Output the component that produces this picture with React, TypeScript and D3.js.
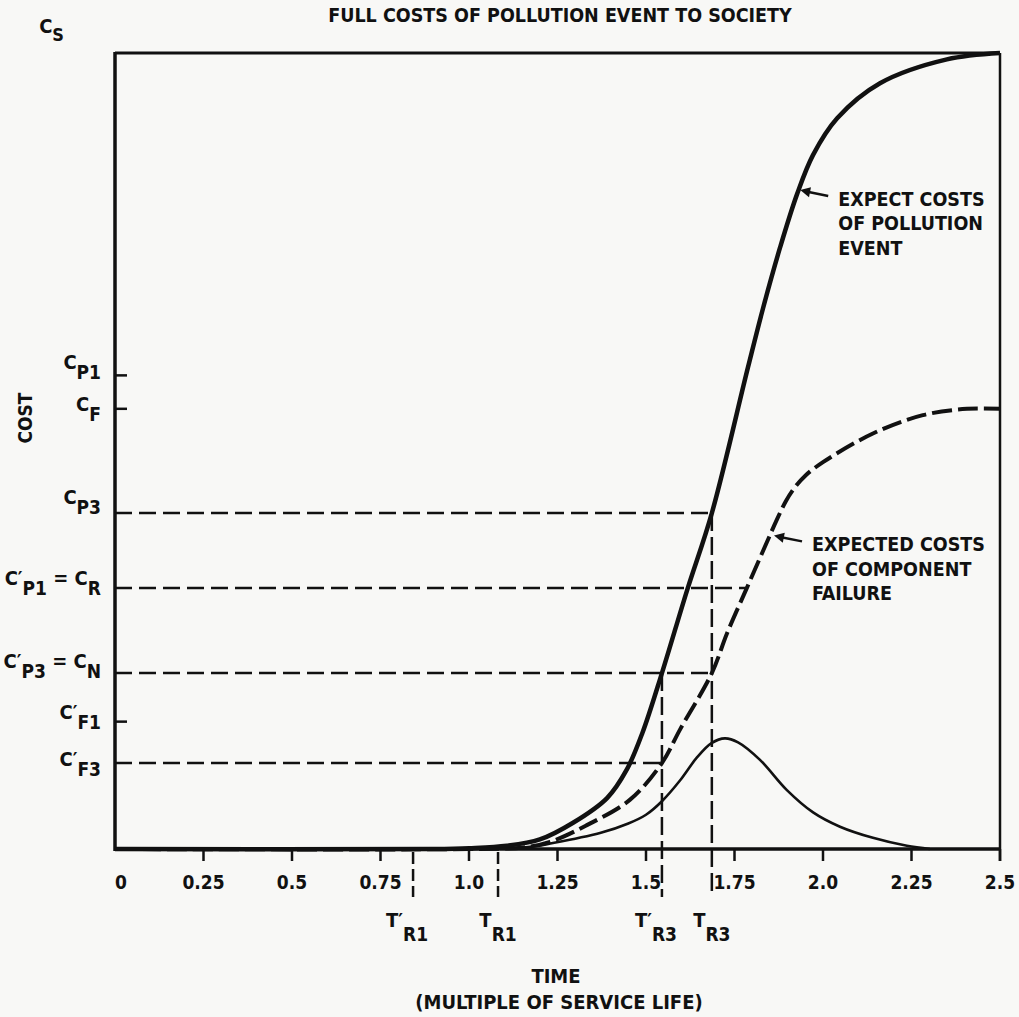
import React from "react";
import * as d3 from "d3";

// ---- data ----
const timeTicks = [0, 0.25, 0.5, 0.75, 1.0, 1.25, 1.5, 1.75, 2.0, 2.25, 2.5];
const timeTickLabels = ["0", "0.25", "0.5", "0.75", "1.0", "1.25", "1.5", "1.75", "2.0", "2.25", "2.5"];

// Expected costs of pollution event (thick solid)
const pollutionT = [0, 0.9, 1.0, 1.107, 1.2, 1.294, 1.39, 1.446, 1.49, 1.545, 1.616, 1.686, 1.788, 1.831, 1.879, 1.927, 1.972, 2.04, 2.161, 2.35, 2.5];
const pollutionV = [0, 0, 0.001, 0.004, 0.012, 0.033, 0.064, 0.1, 0.146, 0.221, 0.325, 0.422, 0.605, 0.68, 0.756, 0.823, 0.872, 0.918, 0.962, 0.992, 1.0];

// Expected costs of component failure (thick dashed)
const componentT = [0, 1.0, 1.153, 1.229, 1.333, 1.455, 1.545, 1.596, 1.686, 1.729, 1.785, 1.842, 1.87, 1.895, 1.92, 1.95, 2.0, 2.141, 2.282, 2.407, 2.5];
const componentV = [0, 0, 0.002, 0.009, 0.03, 0.062, 0.108, 0.15, 0.221, 0.271, 0.328, 0.386, 0.414, 0.437, 0.454, 0.469, 0.486, 0.522, 0.545, 0.553, 0.553];

// Bell-shaped curve (thin solid)
const bellT = [0, 1.0, 1.16, 1.237, 1.37, 1.45, 1.5, 1.545, 1.596, 1.644, 1.685, 1.723, 1.76, 1.822, 1.898, 1.972, 2.048, 2.141, 2.237, 2.302];
const bellV = [0, 0, 0.002, 0.0075, 0.02, 0.032, 0.043, 0.06, 0.086, 0.115, 0.133, 0.139, 0.134, 0.112, 0.074, 0.046, 0.028, 0.014, 0.004, 0];

// Cost levels on the y axis
const costIds = ["CS", "CP1", "CF", "CP3", "CR", "CN", "CF1", "CF3"];
const costValues = [1.0, 0.595, 0.553, 0.422, 0.328, 0.221, 0.16, 0.108];
// label segments: [text, isSubscript]
const costLabels: [string, boolean][][] = [
  [["C", false], ["S", true]],
  [["C", false], ["P1", true]],
  [["C", false], ["F", true]],
  [["C", false], ["P3", true]],
  [["C′", false], ["P1", true], [" = C", false], ["R", true]],
  [["C′", false], ["P3", true], [" = C", false], ["N", true]],
  [["C′", false], ["F1", true]],
  [["C′", false], ["F3", true]],
];
// time (x) where the dashed reference line stops; null = short tick only
const costLineEnd: (number | null)[] = [null, null, null, 1.686, 1.785, 1.686, null, 1.545];

// Time markers
const markerIds = ["TpR1", "TR1", "TpR3", "TR3"];
const markerT = [0.842, 1.082, 1.545, 1.686];
const markerLabels: [string, boolean][][] = [
  [["T′", false], ["R1", true]],
  [["T", false], ["R1", true]],
  [["T′", false], ["R3", true]],
  [["T", false], ["R3", true]],
];
// cost level where the vertical dashed line starts (null = below axis only)
const markerStartV: (number | null)[] = [null, null, 0.221, 0.422];

// Annotations
const annotationLines = [
  ["EXPECT COSTS", "OF POLLUTION", "EVENT"],
  ["EXPECTED COSTS", "OF COMPONENT", "FAILURE"],
];
const annotationT = [1.93, 1.856];
const annotationV = [0.828, 0.394];

const titleText = "FULL COSTS OF POLLUTION EVENT TO SOCIETY";
const yTitle = "COST";
const xTitle = ["TIME", "(MULTIPLE OF SERVICE LIFE)"];

// ---- layout ----
const W = 1019;
const H = 1017;
const LEFT = 115;
const RIGHT = 1000;
const TOP = 53;
const BOTTOM = 849;
const FONT = "'DejaVu Sans Condensed','Liberation Sans Narrow','DejaVu Sans',sans-serif";
const INK = "#111";
const labelShift: Record<string, number> = { CS: 0, CP1: -3, CF: 5, CP3: -6, CR: 0, CN: -2, CF1: 0, CF3: 6 };

function Label({ segs, x, y, anchor, size, subSize, subDy }: any) {
  const out: any[] = [];
  let down = false;
  segs.forEach(([t, sub]: [string, boolean], i: number) => {
    let dy = 0;
    if (sub && !down) { dy = subDy; down = true; }
    else if (!sub && down) { dy = -subDy; down = false; }
    out.push(
      <tspan key={i} dy={dy} fontSize={sub ? subSize : size}>{t}</tspan>
    );
  });
  return (
    <text x={x} y={y} textAnchor={anchor} fontFamily={FONT} fontWeight="bold" fill={INK} style={{ whiteSpace: "pre" }}>
      {out}
    </text>
  );
}

export default function App() {
  const x = d3.scaleLinear().domain([0, 2.5]).range([LEFT, RIGHT]);
  const y = d3.scaleLinear().domain([0, 1]).range([BOTTOM, TOP]);
  const line = d3
    .line<[number, number]>()
    .x((d) => x(d[0]))
    .y((d) => Math.min(BOTTOM, y(d[1])))
    .curve(d3.curveCatmullRom.alpha(0.5));

  const pollution = pollutionT.map((t, i) => [t, pollutionV[i]] as [number, number]);
  const component = componentT.map((t, i) => [t, componentV[i]] as [number, number]);
  const bell = bellT.map((t, i) => [t, bellV[i]] as [number, number]);

  return (
    <svg width={W} height={H} style={{ position: "absolute", left: 0, top: 0 }}>
      <rect x={0} y={0} width={W} height={H} fill="#f8f8f6" />

      {/* title */}
      <text x={560} y={22} textAnchor="middle" fontFamily={FONT} fontWeight="bold" fontSize={19.5} fill={INK}>
        {titleText}
      </text>

      {/* reference dashed lines (horizontal) */}
      {costValues.map((v, i) =>
        costLineEnd[i] != null ? (
          <line key={"h" + i} x1={x(0)} x2={x(costLineEnd[i] as number)} y1={y(v)} y2={y(v)}
            stroke={INK} strokeWidth={2.5} strokeDasharray="17 7" />
        ) : null
      )}
      {/* short y ticks */}
      {costValues.map((v, i) =>
        costLineEnd[i] == null && costIds[i] !== "CS" ? (
          <line key={"yt" + i} x1={x(0)} x2={x(0) + 12} y1={y(v)} y2={y(v)} stroke={INK} strokeWidth={2.5} />
        ) : null
      )}

      {/* vertical time markers */}
      {markerT.map((t, i) => (
        <line key={"v" + i} x1={x(t)} x2={x(t)}
          y1={markerStartV[i] != null ? y(markerStartV[i] as number) : BOTTOM + 3}
          y2={BOTTOM + 48} stroke={INK} strokeWidth={2.5}
          strokeDasharray={markerStartV[i] != null ? "18 6" : "12 5"} />
      ))}

      {/* curves */}
      <path d={line(bell) || ""} fill="none" stroke={INK} strokeWidth={2.6} />
      <path d={line(component) || ""} fill="none" stroke={INK} strokeWidth={4} strokeDasharray="20 6" />
      <path d={line(pollution) || ""} fill="none" stroke={INK} strokeWidth={4.5} />

      {/* frame */}
      <line x1={LEFT} x2={RIGHT} y1={TOP} y2={TOP} stroke={INK} strokeWidth={3} />
      <line x1={RIGHT} x2={RIGHT} y1={TOP} y2={BOTTOM + 12} stroke={INK} strokeWidth={2.5} />
      <line x1={LEFT} x2={LEFT} y1={TOP - 1} y2={BOTTOM + 2} stroke={INK} strokeWidth={3.5} />
      <line x1={LEFT} x2={RIGHT} y1={BOTTOM} y2={BOTTOM} stroke={INK} strokeWidth={3.5} />

      {/* x ticks */}
      {timeTicks.map((t, i) =>
        i > 0 ? (
          <line key={"xt" + i} x1={x(t)} x2={x(t)} y1={BOTTOM} y2={BOTTOM + 12} stroke={INK} strokeWidth={2.5} />
        ) : null
      )}
      {timeTicks.map((t, i) => (
        <text key={"xl" + i} x={x(t) + (i === 0 ? 6 : 0)} y={889} textAnchor="middle" fontFamily={FONT}
          fontWeight="bold" fontSize={19} fill={INK}>
          {timeTickLabels[i]}
        </text>
      ))}

      {/* marker labels */}
      {markerT.map((t, i) => (
        <Label key={"ml" + i} segs={markerLabels[i]} x={x(t) - (markerIds[i].startsWith("Tp") ? 6 : 0)} y={927}
          anchor="middle" size={20} subSize={19} subDy={14} />
      ))}

      {/* y labels */}
      {costValues.map((v, i) =>
        costIds[i] === "CS" ? (
          <Label key={"yl" + i} segs={costLabels[i]} x={64} y={33} anchor="end" size={20} subSize={18} subDy={8} />
        ) : (
          <Label key={"yl" + i} segs={costLabels[i]} x={101} y={y(v) - 3 + labelShift[costIds[i]]}
            anchor="end" size={20} subSize={19} subDy={10} />
        )
      )}

      {/* axis titles */}
      <text transform="translate(32,418) rotate(-90)" textAnchor="middle" fontFamily={FONT} fontWeight="bold"
        fontSize={19} fill={INK}>
        {yTitle}
      </text>
      <text x={556} y={983} textAnchor="middle" fontFamily={FONT} fontWeight="bold" fontSize={20} fill={INK}>
        {xTitle[0]}
      </text>
      <text x={559} y={1009} textAnchor="middle" fontFamily={FONT} fontWeight="bold" fontSize={20} fill={INK}>
        {xTitle[1]}
      </text>

      {/* annotations */}
      {annotationLines.map((lines, i) => {
        const tx = x(annotationT[i]);
        const ty = y(annotationV[i]);
        const ang = Math.atan2(6, 30);
        const hx = tx + 12 * Math.cos(ang);
        const hy = ty + 12 * Math.sin(ang);
        const px = -Math.sin(ang) * 5;
        const py = Math.cos(ang) * 5;
        return (
          <g key={"an" + i}>
            <line x1={tx + 8} y1={ty + 1.6} x2={tx + 30} y2={ty + 6} stroke={INK} strokeWidth={2.5} />
            <polygon points={`${tx + 2},${ty} ${hx + px},${hy + py} ${hx - px},${hy - py}`} fill={INK} />
            {lines.map((s, j) => (
              <text key={j} x={tx + 40} y={ty + 16 + j * 24.5} fontFamily={FONT} fontWeight="bold" fontSize={19.5}
                fill={INK}>
                {s}
              </text>
            ))}
          </g>
        );
      })}
    </svg>
  );
}
